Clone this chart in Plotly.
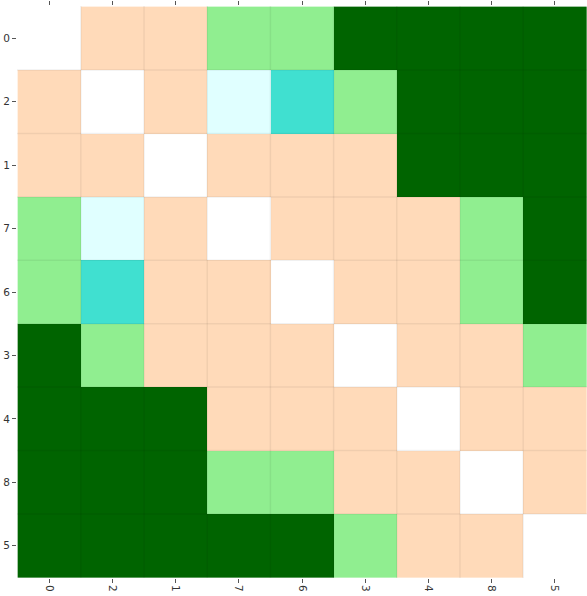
import plotly.graph_objects as go

# Item order used on both axes
labels = ["0", "2", "1", "7", "6", "3", "4", "8", "5"]

# Relation class for every pair (0 = self, 1 = close, 2 = moderate,
# 3 = weak, 4 = partial, 5 = distant)
relation = [
    [0, 1, 1, 2, 2, 5, 5, 5, 5],
    [1, 0, 1, 3, 4, 2, 5, 5, 5],
    [1, 1, 0, 1, 1, 1, 5, 5, 5],
    [2, 3, 1, 0, 1, 1, 1, 2, 5],
    [2, 4, 1, 1, 0, 1, 1, 2, 5],
    [5, 2, 1, 1, 1, 0, 1, 1, 2],
    [5, 5, 5, 1, 1, 1, 0, 1, 1],
    [5, 5, 5, 2, 2, 1, 1, 0, 1],
    [5, 5, 5, 5, 5, 2, 1, 1, 0],
]

class_colors = ["#ffffff", "#ffdab9", "#90ee90", "#e0ffff", "#40e0d0", "#006400"]

n_cls = len(class_colors)
colorscale = []
for k, c in enumerate(class_colors):
    colorscale.append([k / n_cls, c])
    colorscale.append([(k + 1) / n_cls, c])

fig = go.Figure(
    go.Heatmap(
        z=relation,
        x=labels,
        y=labels,
        zmin=-0.5,
        zmax=n_cls - 0.5,
        colorscale=colorscale,
        showscale=False,
        hoverinfo="skip",
    )
)

# faint cell borders drawn over the tiles
n = len(labels)
grid = dict(color="rgba(0,0,0,0.06)", width=1.5)
for i in range(1, n):
    fig.add_shape(type="line", xref="x", yref="paper", x0=i - 0.5, x1=i - 0.5,
                  y0=0, y1=1, line=grid, layer="above")
    fig.add_shape(type="line", xref="paper", yref="y", x0=0, x1=1,
                  y0=i - 0.5, y1=i - 0.5, line=grid, layer="above")

tick_font = dict(family="DejaVu Sans", size=10.5, color="#333333")
fig.update_layout(
    width=587,
    height=596,
    margin=dict(l=17, r=0, t=6, b=18),
    paper_bgcolor="white",
    plot_bgcolor="white",
    xaxis=dict(
        type="category",
        tickangle=90,
        ticks="outside",
        ticklen=4,
        tickcolor="#555555",
        tickfont=tick_font,
        showgrid=False,
        zeroline=False,
        showline=False,
    ),
    # tick marks repeated along the top edge, without labels
    xaxis2=dict(
        type="category",
        overlaying="x",
        matches="x",
        side="top",
        ticks="outside",
        ticklen=4,
        tickcolor="#555555",
        showticklabels=False,
        showgrid=False,
        zeroline=False,
        showline=False,
    ),
    yaxis=dict(
        type="category",
        autorange="reversed",
        ticks="outside",
        ticklen=4,
        tickcolor="#555555",
        tickfont=tick_font,
        showgrid=False,
        zeroline=False,
        showline=False,
    ),
)

# invisible trace that puts the category ticks on the top axis
fig.add_trace(go.Scatter(x=labels, y=labels, xaxis="x2", mode="markers",
                         marker=dict(opacity=0), hoverinfo="skip",
                         showlegend=False))

fig.write_html("out.html")
